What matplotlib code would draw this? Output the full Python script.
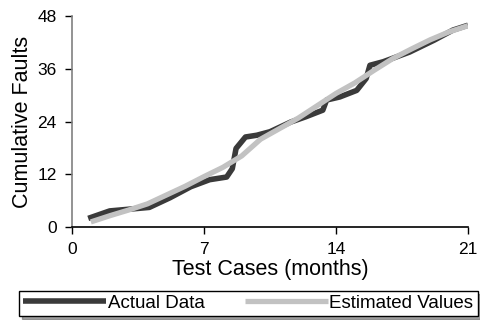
import matplotlib
matplotlib.use("Agg")
import matplotlib.pyplot as plt

plt.rcParams['font.family'] = ['Liberation Sans', 'DejaVu Sans']

# actual cumulative faults
actual_x = [0.86, 2.0, 4.1, 5.2, 6.3, 7.3, 8.2, 8.5, 8.7, 9.2, 9.8, 10.5, 11.6, 12.4,
            13.3, 13.5, 14.2, 15.1, 15.6, 15.8, 16.5, 17.9, 19.2, 20.2, 21.0]
actual_y = [2.0, 3.7, 4.5, 6.7, 9.2, 10.8, 11.4, 13.3, 17.9, 20.5, 20.9, 21.7, 23.9, 25.1,
            26.6, 28.9, 29.6, 31.1, 33.8, 36.8, 37.6, 39.8, 42.5, 44.8, 45.9]

# estimated values
est_x = [1, 2, 3, 4, 5, 6, 7, 8, 9, 10, 11, 12, 13, 14, 15, 16, 17, 18, 19, 20, 21]
est_y = [1.2, 2.6, 3.9, 5.3, 7.3, 9.3, 11.5, 13.6, 16.2, 20.0, 22.4, 24.8, 27.6, 30.4,
         32.8, 35.6, 38.3, 40.5, 42.6, 44.4, 45.8]

fig = plt.figure(figsize=(4.8, 3.2), dpi=100)
ax = fig.add_axes([0.15, 0.29, 0.825, 0.66])

ax.plot(actual_x, actual_y, color='#3a3a3a', lw=4.0, label='Actual Data', solid_capstyle='butt')
ax.plot(est_x, est_y, color='#c2c2c2', lw=3.8, label='Estimated Values', solid_capstyle='butt')

ax.set_xlim(0, 21)
ax.set_ylim(0, 48)
ax.set_xticks([0, 7, 14, 21])
ax.set_yticks([0, 12, 24, 36, 48])
ax.tick_params(labelsize=12.5, length=5, width=1, pad=6, direction='out')
ax.spines['top'].set_visible(False)
ax.spines['right'].set_visible(False)
ax.spines['left'].set_color('#808080')
ax.spines['left'].set_linewidth(1.2)
ax.spines['bottom'].set_linewidth(1.2)

ax.set_xlabel('Test Cases (months)', fontsize=15.5, labelpad=1)
ax.set_ylabel('Cumulative Faults', fontsize=15.5, labelpad=3)

fig.legend(loc='lower left', bbox_to_anchor=(0.04, 0.012, 0.955, 0.08), mode='expand',
           ncol=2, fontsize=13.5, handlelength=4.4, frameon=True, fancybox=False,
           edgecolor='black', shadow=True, borderpad=0.22, columnspacing=1.0,
           handletextpad=0.1, borderaxespad=0)

fig.savefig('out.png', dpi=100)
